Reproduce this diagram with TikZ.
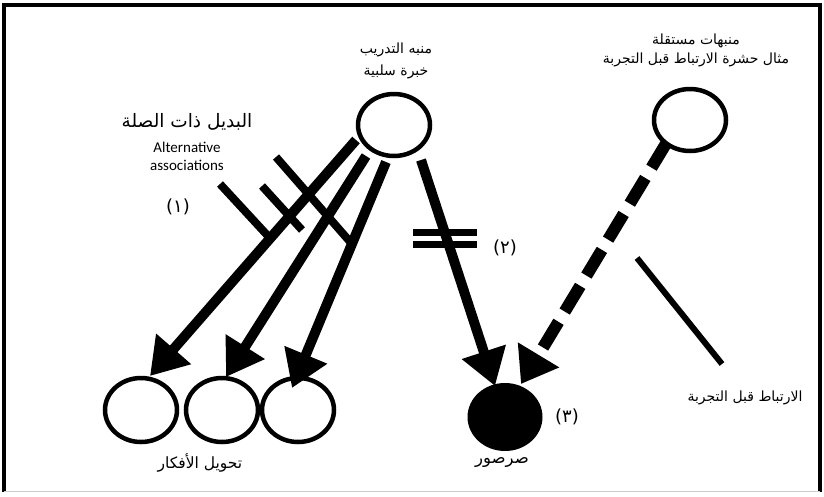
\documentclass[tikz,border=0pt]{standalone}
\usepackage{fontspec}
\usetikzlibrary{arrows.meta,shapes.geometric}
\TeXXeTstate=1
\newfontfamily\arabicfont[Script=Arabic]{DejaVu Sans}
\newfontfamily\latinfont{Carlito}
\tikzset{
  ring/.style={ellipse,draw,line width=4.5pt,inner sep=0pt,minimum width=72pt,minimum height=64pt},
  blob/.style={ellipse,fill=black,inner sep=0pt,minimum width=75pt,minimum height=68pt},
  lab/.style={font=\arabicfont\fontsize{14}{16}\selectfont,align=center,inner sep=0pt},
  num/.style={font=\arabicfont\fontsize{18}{20}\selectfont,inner sep=0pt},
  bigarrow/.style={line width=10pt,-{Triangle[length=36pt,width=44pt]}},
  cross/.style={line width=8pt},
}
\begin{document}
\begin{tikzpicture}[x=1pt,y=-1pt]
\useasboundingbox (0,0) rectangle (824,496);
% frame
\draw[line width=4pt] (4,492) -- (4,5) -- (820,5) -- (820,492);
\draw[gray!40,line width=1pt] (4,491) -- (820,491);
% nodes
\node[ring,minimum width=72pt,minimum height=62pt] (top) at (394,125) {};
\node[ring,minimum width=72pt,minimum height=62pt] (rt) at (690,120) {};
\node[ring] (c1) at (141,410) {};
\node[ring] (c2) at (222,410) {};
\node[ring] (c3) at (298,410) {};
\node[blob] (bk) at (505,417) {};
% labels
\node[lab] (ltop1) at (396,50) {\beginR منبه التدريب\endR};
\node[lab] (ltop2) at (396,72) {\beginR خبرة سلبية\endR};
\node[lab] (lrt1) at (696,41) {\beginR منبهات مستقلة\endR};
\node[lab] (lrt2) at (696,60) {\beginR مثال حشرة الارتباط قبل التجربة\endR};
\node[lab,font=\arabicfont\fontsize{18.5}{20}\selectfont] (alt) at (187,122) {\beginR البديل ذات الصلة\endR};
\node[align=center,inner sep=0pt,font=\latinfont\fontsize{15}{18}\selectfont] (alte) at (187,156) {Alternative\\associations};
\node[num] (n1) at (178,207) {(١)};
\node[num] (n2) at (505,248) {(٢)};
\node[num] (n3) at (567,417) {(٣)};
\node[lab,font=\arabicfont\fontsize{15.5}{17}\selectfont] (lc) at (200,463) {\beginR تحويل الأفكار\endR};
\node[lab,font=\arabicfont\fontsize{16.5}{18}\selectfont] (lbk) at (502,463) {\beginR صرصور\endR};
\node[lab] (lpre) at (745,398) {\beginR الارتباط قبل التجربة\endR};
% arrows
\coordinate (s1) at (356,140);
\coordinate (s2) at (366,156);
\coordinate (s3) at (386,162);
\coordinate (s4) at (421,160);
\coordinate (t1) at (150,376);
\coordinate (t2) at (226,377);
\coordinate (t3) at (292,388);
\coordinate (t4) at (495,386);
\draw[bigarrow] (s1) -- (t1);
\draw[bigarrow] (s2) -- (t2);
\draw[bigarrow] (s3) -- (t3);
\draw[bigarrow] (s4) -- (t4);
\coordinate (s5) at (667,142);
\coordinate (t5) at (521,384);
\draw[line width=12pt,dash pattern=on 30pt off 12pt,-{Triangle[length=34pt,width=46pt]}] (s5) -- (t5);
% crossing bars
\coordinate (x1a) at (220,184); \coordinate (x1b) at (268,236);
\coordinate (x2a) at (262,186); \coordinate (x2b) at (302,230);
\coordinate (x3a) at (276,157); \coordinate (x3b) at (352,244);
\draw[cross] (x1a) -- (x1b);
\draw[cross] (x2a) -- (x2b);
\draw[cross] (x3a) -- (x3b);
% not-equal marks
\coordinate (e1a) at (413,232); \coordinate (e1b) at (477,232);
\coordinate (e2a) at (413,244); \coordinate (e2b) at (477,244);
\draw[line width=7pt] (e1a) -- (e1b);
\draw[line width=7pt] (e2a) -- (e2b);
% pre-exposure line
\coordinate (p1) at (637,258); \coordinate (p2) at (722,364);
\draw[line width=6pt] (p1) -- (p2);
\end{tikzpicture}
\end{document}
